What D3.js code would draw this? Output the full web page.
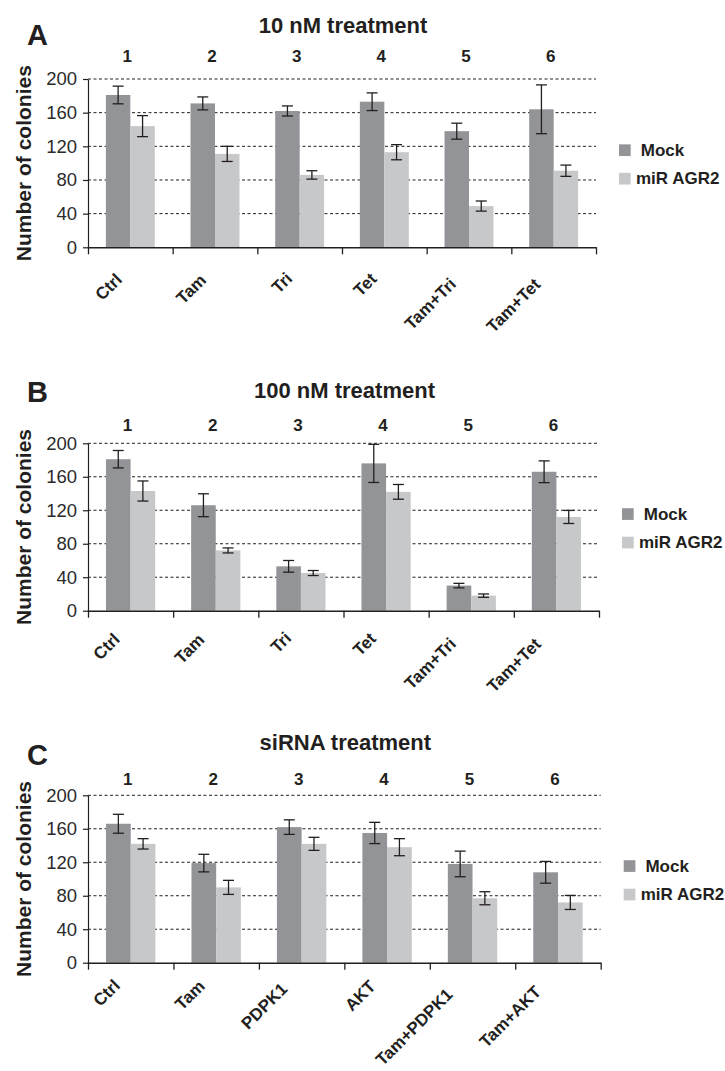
<!DOCTYPE html>
<html>
<head>
<meta charset="utf-8">
<script src="https://cdn.jsdelivr.net/npm/d3@7"></script>
<style>
  html, body { margin: 0; padding: 0; background: #fff; }
  svg { display: block; font-family: "Liberation Sans", Arial, Helvetica, sans-serif; }
</style>
</head>
<body>
<svg id="chart" width="725" height="1071"></svg>
<script>
// ---------- DATA ----------
const seriesNames = [" Mock", "miR AGR2"];
const groupNumbers = ["1", "2", "3", "4", "5", "6"];
const yTickValues = [0, 40, 80, 120, 160, 200];

const categoriesA = ["Ctrl", "Tam", "Tri", "Tet", "Tam+Tri", "Tam+Tet"];
const mockA    = [181, 171, 162, 173, 138, 164];
const mockErrA = [10.5, 7.7, 6, 10.5, 9.5, 29];
const mirA     = [144, 111, 86, 113, 49, 91];
const mirErrA  = [12.5, 9, 5, 9, 6, 6.7];

const categoriesB = ["Ctrl", "Tam", "Tri", "Tet", "Tam+Tri", "Tam+Tet"];
const mockB    = [181, 126, 53, 176, 30, 166];
const mockErrB = [10.4, 13.7, 7, 22.8, 2.7, 13];
const mirB     = [143, 72, 45, 142, 18, 112];
const mirErrB  = [12, 3, 3, 8.8, 2, 7.8];

const categoriesC = ["Ctrl", "Tam", "PDPK1", "AKT", "Tam+PDPK1", "Tam+AKT"];
const mockC    = [166, 119, 162, 155, 118, 108];
const mockErrC = [11.3, 10.5, 8.7, 12.7, 15.3, 13];
const mirC     = [142, 90, 142, 138, 77, 72];
const mirErrC  = [6.2, 8.4, 7.8, 10.2, 7.8, 8.4];

const titles = ["10 nM treatment", "100 nM treatment", "siRNA treatment"];
const panelLetters = ["A", "B", "C"];
const yAxisTitle = "Number of colonies";

// ---------- LAYOUT ----------
const ink = "#231f20";
const colors = ["#939498", "#c7c8ca"];
const left = 88;
const layouts = [
  { top: 79,    bottom: 247.3, right: 596,   titleY: 33,  numY: 61.7, letterY: 45,    lab: [-3.6, 29.6] },
  { top: 443.3, bottom: 610.7, right: 599,   titleY: 398, numY: 430.7, letterY: 401.7, lab: [-5.9, 25.9] },
  { top: 795.3, bottom: 962.7, right: 600.7, titleY: 750, numY: 785,  letterY: 765,   lab: [-6, 20.2] }
];
const panels = [
  { cats: categoriesA, vals: [mockA, mirA], errs: [mockErrA, mirErrA] },
  { cats: categoriesB, vals: [mockB, mirB], errs: [mockErrB, mirErrB] },
  { cats: categoriesC, vals: [mockC, mirC], errs: [mockErrC, mirErrC] }
];

const svg = d3.select("#chart");

panels.forEach((p, pi) => {
  const L = layouts[pi];
  const g = svg.append("g");

  const x0 = d3.scaleBand().domain(p.cats).range([left, L.right]).padding(0);
  const x1 = d3.scaleBand().domain(seriesNames).range([0, x0.bandwidth()]).paddingInner(0).paddingOuter(0.73);
  const y = d3.scaleLinear().domain([0, 200]).range([L.bottom, L.top]);
  const xb = d3.scaleLinear().domain([0, p.cats.length]).range([left, L.right]);

  // gridlines
  g.append("g").selectAll("line")
    .data(yTickValues.filter(v => v > 0))
    .join("line")
    .attr("x1", left).attr("x2", L.right)
    .attr("y1", d => y(d)).attr("y2", d => y(d))
    .attr("stroke", ink).attr("stroke-width", 1)
    .attr("stroke-dasharray", "3,2.5");

  // bars
  const rows = [];
  p.cats.forEach((c, i) => seriesNames.forEach((s, si) => rows.push({ c, s, si, v: p.vals[si][i], e: p.errs[si][i] })));
  g.append("g").selectAll("rect")
    .data(rows).join("rect")
    .attr("x", d => x0(d.c) + x1(d.s))
    .attr("width", x1.bandwidth())
    .attr("y", d => y(d.v))
    .attr("height", d => y(0) - y(d.v))
    .attr("fill", d => colors[d.si]);

  // error bars
  const eb = g.append("g").attr("stroke", ink).attr("stroke-width", 1.3).attr("fill", "none");
  rows.forEach(d => {
    const cx = x0(d.c) + x1(d.s) + x1.bandwidth() / 2;
    eb.append("line").attr("x1", cx).attr("x2", cx).attr("y1", y(d.v + d.e)).attr("y2", y(d.v - d.e));
    eb.append("line").attr("x1", cx - 5.5).attr("x2", cx + 5.5).attr("y1", y(d.v + d.e)).attr("y2", y(d.v + d.e));
    eb.append("line").attr("x1", cx - 5.5).attr("x2", cx + 5.5).attr("y1", y(d.v - d.e)).attr("y2", y(d.v - d.e));
  });

  // y axis
  const ya = g.append("g").attr("transform", `translate(${left},0)`)
    .call(d3.axisLeft(y).tickValues(yTickValues).tickSize(5).tickSizeOuter(0).tickPadding(6));
  ya.attr("font-family", null).attr("font-size", null);
  ya.select(".domain").attr("stroke", ink).attr("stroke-width", 1.2);
  ya.selectAll(".tick line").attr("stroke", ink).attr("stroke-width", 1.2);
  ya.selectAll(".tick text").attr("fill", "#2b2b2b").style("font-size", "18.5px");

  // x axis (boundary ticks)
  const xa = g.append("g").attr("transform", `translate(0,${y(0)})`)
    .call(d3.axisBottom(xb).tickValues(d3.range(p.cats.length + 1)).tickFormat("").tickSize(7).tickSizeOuter(0));
  xa.select(".domain").attr("stroke", ink).attr("stroke-width", 1.6);
  xa.selectAll(".tick line").attr("stroke", ink).attr("stroke-width", 1.3);

  // category labels (rotated -45)
  const labG = g.append("g");
  p.cats.forEach(c => {
    const tx = labG.append("text")
      .attr("text-anchor", "end")
      .style("font-size", "17px").style("font-weight", "bold").attr("fill", ink)
      .text(c);
    const shift = 0.18 * tx.node().getComputedTextLength() * Math.SQRT1_2;
    const ax = x0(c) + x0.bandwidth() / 2 + L.lab[0] - shift;
    const ay = y(0) + L.lab[1] + shift;
    tx.attr("transform", `translate(${ax},${ay}) rotate(-45)`);
  });

  // group numbers
  g.append("g").selectAll("text")
    .data(p.cats).join("text")
    .attr("x", d => x0(d) + x0.bandwidth() / 2 - 3)
    .attr("y", L.numY)
    .attr("text-anchor", "middle")
    .style("font-size", "17px").style("font-weight", "bold").attr("fill", ink)
    .text((d, i) => groupNumbers[i]);

  // title
  g.append("text")
    .attr("x", (left + L.right) / 2 + 1).attr("y", L.titleY)
    .attr("text-anchor", "middle")
    .style("font-size", "22px").style("font-weight", "bold").attr("fill", ink)
    .text(titles[pi]);

  // panel letter
  g.append("text")
    .attr("x", 27).attr("y", L.letterY)
    .style("font-size", "29px").style("font-weight", "bold").attr("fill", ink)
    .text(panelLetters[pi]);

  // y axis title
  const yc = (L.top + L.bottom) / 2;
  g.append("text")
    .attr("transform", `translate(31,${yc}) rotate(-90)`)
    .attr("text-anchor", "middle")
    .style("font-size", "21px").style("font-weight", "bold").attr("fill", ink)
    .text(yAxisTitle);

  // legend
  const lg = g.append("g");
  seriesNames.forEach((s, si) => {
    const cy = yc + (si === 0 ? -13 : 15.5);
    lg.append("rect")
      .attr("x", L.right + 23).attr("y", cy - 5.8)
      .attr("width", 11.7).attr("height", 11.7)
      .attr("fill", colors[si]);
    lg.append("text")
      .attr("x", L.right + 40).attr("y", cy + 5.8)
      .style("white-space", "pre")
      .style("font-size", "17px").style("font-weight", "bold").attr("fill", ink)
      .text(s);
  });
});
</script>
</body>
</html>
